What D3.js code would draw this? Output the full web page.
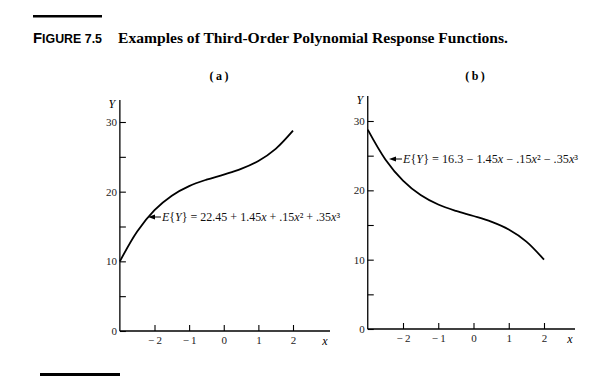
<!DOCTYPE html>
<html><head><meta charset="utf-8">
<script src="https://cdn.jsdelivr.net/npm/d3@7"></script>
<style>body{margin:0;background:#fff}svg{display:block}</style>
</head><body>
<script>
// ---- data ----
const xA = [-3, -2.5, -2, -1.5, -1, -0.5, 0, 0.5, 1, 1.5, 2];
const yA = [10.0, 14.29, 17.35, 19.43, 20.8, 21.72, 22.45, 23.26, 24.4, 26.14, 28.75];
const xB = [-3, -2.5, -2, -1.5, -1, -0.5, 0, 0.5, 1, 1.5, 2];
const yB = [28.75, 24.46, 21.4, 19.32, 17.95, 17.03, 16.3, 15.49, 14.35, 12.61, 10.0];
const xTicks = [-2, -1, 0, 1, 2];
const xTickLabels = ["\u2212\u20092", "\u2212\u20091", "0", "1", "2"];
const yMajor = [0, 10, 20, 30];
const yMinor = [5, 15, 25];
const titleLead = ["F", "IGURE 7.5"];
const titleText = "Examples of Third-Order Polynomial Response Functions.";
const panelLabels = ["(\u2009a\u2009)", "(\u2009b\u2009)"];
const eqA = ["E", "{", "Y", "} = 22.45 + 1.45", "x", " + .15", "x", "²", " + .35", "x", "³"];
const eqB = ["E", "{", "Y", "} = 16.3 \u2212 1.45", "x", " \u2212 .15", "x", "²", " \u2212 .35", "x", "³"];
const eqItalic = [true,false,true,false,true,false,true,false,false,true,false];

const W = 606, H = 391;
const svg = d3.select("body").append("svg").attr("width", W).attr("height", H);
const serif = "'Liberation Serif','Times New Roman',serif";

// title rules
svg.append("rect").attr("x", 33).attr("y", 15).attr("width", 69).attr("height", 2.5).attr("fill", "#000");
svg.append("rect").attr("x", 40).attr("y", 373).attr("width", 80).attr("height", 3).attr("fill", "#000");

const t1 = svg.append("text").attr("x", 33).attr("y", 43)
  .attr("font-family", "'Liberation Sans',Arial,sans-serif").attr("font-weight", "bold").attr("fill", "#000")
  .attr("textLength", 69).attr("lengthAdjust", "spacingAndGlyphs");
t1.append("tspan").attr("font-size", 15).text(titleLead[0]);
t1.append("tspan").attr("font-size", 12.5).text(titleLead[1]);
svg.append("text").attr("x", 118).attr("y", 43).attr("font-family", serif).attr("font-weight", "bold")
  .attr("font-size", 15).attr("textLength", 390).attr("lengthAdjust", "spacingAndGlyphs").attr("fill", "#000").text(titleText);

function panel(cfg) {
  const x = d3.scaleLinear().domain([-2, 2]).range(cfg.xr);
  const y = d3.scaleLinear().domain([0, 30]).range(cfg.yr);
  const g = svg.append("g");
  const x0 = x(-3), y0 = y(0);
  // axes lines
  g.append("line").attr("x1", x0).attr("x2", x0).attr("y1", y0).attr("y2", cfg.yTop).attr("stroke", "#000").attr("stroke-width", 1.3);
  g.append("line").attr("x1", x0).attr("x2", cfg.xEnd).attr("y1", y0).attr("y2", y0).attr("stroke", "#000").attr("stroke-width", 1.3);
  // y axis ticks
  const ya = g.append("g").attr("transform", `translate(${x0},0)`)
    .call(d3.axisLeft(y).tickValues(yMajor.concat(yMinor)).tickSizeInner(-6).tickSizeOuter(0).tickPadding(3)
      .tickFormat(d => yMajor.includes(d) ? String(d) : ""));
  ya.select(".domain").remove();
  ya.selectAll("line").attr("stroke", "#000").attr("stroke-width", 1.1);
  ya.selectAll("text").attr("font-family", serif).attr("font-size", 11).attr("fill", "#222");
  // x axis ticks
  const xa = g.append("g").attr("transform", `translate(0,${y0})`)
    .call(d3.axisBottom(x).tickValues(xTicks).tickSizeInner(-6).tickSizeOuter(0).tickPadding(5)
      .tickFormat((d, i) => xTickLabels[i]));
  xa.select(".domain").remove();
  xa.selectAll("line").attr("stroke", "#000").attr("stroke-width", 1.1);
  xa.selectAll("text").attr("font-family", serif).attr("font-size", 11).attr("fill", "#222");
  // axis titles
  g.append("text").attr("x", x0 - 8).attr("y", cfg.yTop + 8).attr("text-anchor", "middle")
    .attr("font-family", serif).attr("font-style", "italic").attr("font-size", 12).text("Y");
  g.append("text").attr("x", cfg.xEnd - 5).attr("y", y0 + 14).attr("text-anchor", "middle")
    .attr("font-family", serif).attr("font-style", "italic").attr("font-size", 12).text("x");
  // panel label
  g.append("text").attr("x", cfg.labelX).attr("y", 80).attr("text-anchor", "middle")
    .attr("font-family", serif).attr("font-weight", "bold").attr("font-size", 12).text(cfg.label);
  // curve
  const pts = cfg.xs.map((v, i) => [v, cfg.ys[i]]);
  g.append("path").datum(pts).attr("fill", "none").attr("stroke", "#000").attr("stroke-width", 1.8)
    .attr("d", d3.line().x(d => x(d[0])).y(d => y(d[1])).curve(d3.curveCatmullRom));
  // annotation arrow
  g.append("line").attr("x1", cfg.arrow[0] + 6).attr("x2", cfg.arrow[2]).attr("y1", cfg.arrow[1]).attr("y2", cfg.arrow[1])
    .attr("stroke", "#000").attr("stroke-width", 1);
  g.append("path").attr("d", `M${cfg.arrow[0]},${cfg.arrow[1]} l7,-2.5 l0,5 z`).attr("fill", "#000");
  const eq = g.append("text").attr("x", cfg.arrow[2] + 1).attr("y", cfg.arrow[1] + 4)
    .attr("font-family", serif).attr("font-size", 11.5).attr("fill", "#111")
    .attr("textLength", cfg.eqLen).attr("lengthAdjust", "spacingAndGlyphs");
  cfg.eq.forEach((s, i) => {
    const ts = eq.append("tspan").text(s);
    if (eqItalic[i]) ts.attr("font-style", "italic");
  });
}

panel({ xr: [154.5, 293], yr: [331, 122], yTop: 100, xEnd: 330, label: panelLabels[0], labelX: 219,
  xs: xA, ys: yA, eq: eqA, arrow: [148, 217, 161], eqLen: 178 });
panel({ xr: [403, 544], yr: [329, 121], yTop: 96, xEnd: 575, label: panelLabels[1], labelX: 475,
  xs: xB, ys: yB, eq: eqB, arrow: [389, 159, 402], eqLen: 175 });
</script>
</body></html>
